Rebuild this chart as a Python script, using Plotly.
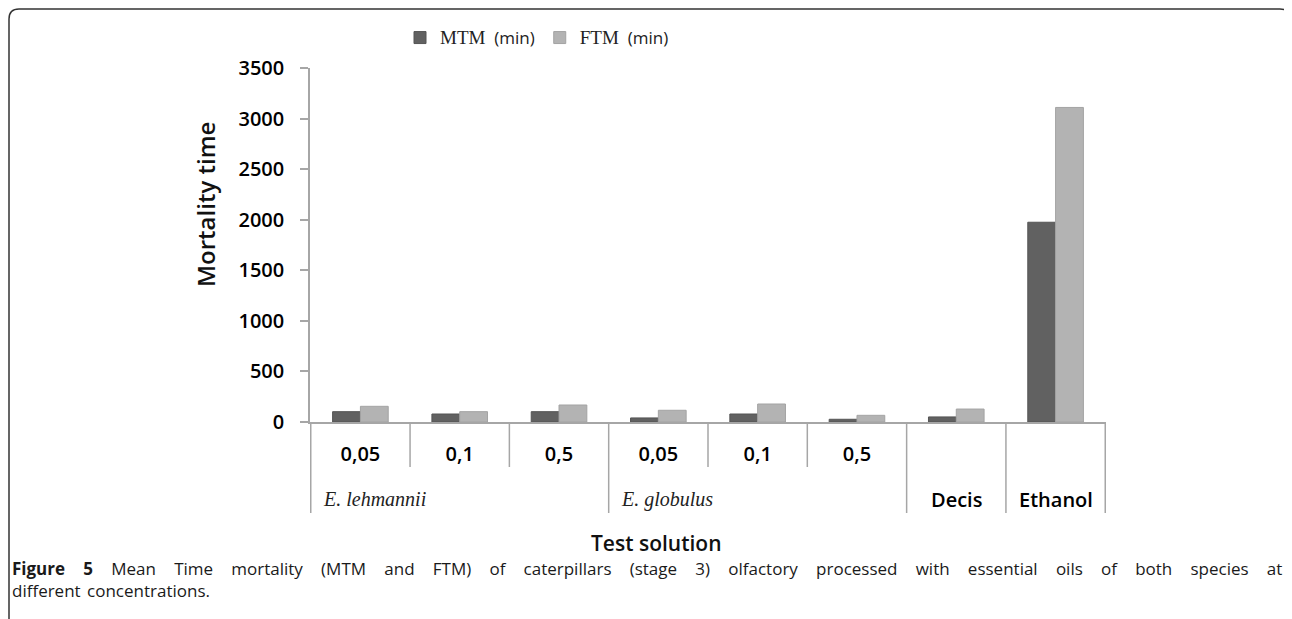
import plotly.graph_objects as go

# data
species = ["E. lehmannii", "E. lehmannii", "E. lehmannii",
           "E. globulus", "E. globulus", "E. globulus",
           "Decis", "Ethanol"]
concentration = ["0,05", "0,1", "0,5", "0,05", "0,1", "0,5", "", ""]
mtm = [102, 79, 102, 40, 79, 27, 50, 1975]
ftm = [155, 102, 168, 116, 178, 66, 128, 3110]
oils = {"E. lehmannii", "E. globulus"}

categories = [f"{s} {c}".strip() for s, c in zip(species, concentration)]

# page body has an 8px margin, so the figure is laid out in screen pixels minus that offset
OFF = 8
W, H = 1292 - OFF, 619 - OFF
L, T = 310 - OFF, 68 - OFF
R, B = W - (1106 - OFF), H - (422 - OFF)
PW, PH = W - L - R, H - T - B


def px(x):  # screen pixel -> paper x
    return (x - OFF - L) / PW


def py(y):  # screen pixel -> paper y
    return (H - B - (y - OFF)) / PH


sans = "Open Sans"
serif = "Liberation Serif"
dark, light = '#616161', '#b3b3b3'
axis_grey = '#a6a6a6'


def legend_name(label):
    return (f"<span style='font-family:{serif};font-size:19px'>{label}</span>"
            f"\u00a0\u00a0<span style='font-size:17px'>(min)</span>")


fig = go.Figure()
fig.add_trace(go.Bar(x=categories, y=mtm, name=legend_name("MTM"),
                     marker=dict(color=dark, line=dict(color='#555555', width=1))))
fig.add_trace(go.Bar(x=categories, y=ftm, name=legend_name("FTM"),
                     marker=dict(color=light, line=dict(color='#a3a3a3', width=1))))

fig.update_layout(width=W, height=H, margin=dict(l=L, r=R, t=T, b=B),
                  paper_bgcolor='white', plot_bgcolor='white',
                  barmode='group', bargap=0.44, bargroupgap=0,
                  font=dict(family=sans, color='black'),
                  showlegend=True,
                  legend=dict(orientation='h', x=px(400), y=py(38), xanchor='left', yanchor='middle',
                              font=dict(size=17, color='#222'), itemwidth=30,
                              bgcolor='rgba(0,0,0,0)'))

fig.update_xaxes(type='category', tickvals=categories, ticktext=concentration,
                 showline=True, linecolor=axis_grey, linewidth=1.5, ticks='',
                 ticklabelstandoff=13, tickfont=dict(size=20, weight=600),
                 showgrid=False, zeroline=False)
fig.update_yaxes(range=[0, 3500], dtick=500, showline=True, linecolor=axis_grey, linewidth=1.5,
                 ticks='outside', ticklen=8, tickcolor=axis_grey, tickwidth=1.5,
                 ticklabelstandoff=12, tickfont=dict(size=20, weight=600),
                 showgrid=False, zeroline=False)

# category dividers below the axis: short inside a group, long between groups
line_style = dict(color=axis_grey, width=1.5)
short_len, long_len = 45 / PH, 91 / PH
n = len(categories)
for i in range(n + 1):
    boundary = i == 0 or i == n or species[i] != species[i - 1]
    fig.add_shape(type='line', xref='x', yref='paper', x0=i - 0.5, x1=i - 0.5,
                  y0=0, y1=-(long_len if boundary else short_len), line=line_style)

# group labels
start = 0
for i in range(1, n + 1):
    if i == n or species[i] != species[start]:
        name = species[start]
        if name in oils:
            fig.add_annotation(x=start - 0.5, xref='x', y=py(499), yref='paper', xshift=10,
                               text=f"<i>{name}</i>", showarrow=False, xanchor='left', yanchor='middle',
                               font=dict(family=serif, size=20, color='#222'))
        else:
            fig.add_annotation(x=(start + i - 1) / 2, xref='x', y=py(499), yref='paper',
                               text=name, showarrow=False, xanchor='center', yanchor='middle',
                               font=dict(size=20, weight=600, color='black'))
        start = i

# axis titles
fig.add_annotation(x=px(205), y=py(205), xref='paper', yref='paper', text='Mortality time',
                   textangle=-90, showarrow=False, xanchor='center', yanchor='middle',
                   font=dict(size=24, weight=600, color='#111'))
fig.add_annotation(x=px(656), y=py(543), xref='paper', yref='paper', text='Test solution',
                   showarrow=False, xanchor='center', yanchor='middle',
                   font=dict(size=21, weight=600, color='#111'))

# caption (first line stretched to full width like the justified original)
fig.add_annotation(x=px(10), y=py(579), xref='paper', yref='paper', xanchor='left', yanchor='middle',
                   align='left', showarrow=False, font=dict(size=17, color='#1a1a1a'),
                   text="<span style='word-spacing:13.8px'><b>Figure 5</b> Mean Time mortality (MTM and FTM) "
                        "of caterpillars (stage 3) olfactory processed with essential oils of both species at</span><br>"
                        "<span style='word-spacing:2px'>different concentrations.</span>")

# figure frame
fig.add_shape(type='path', xref='paper', yref='paper', line=dict(color='#333333', width=1.5),
              path=f"M {px(1292)},{py(18)} Q {px(1290)},{py(9)} {px(1280)},{py(9)} "
                   f"L {px(19)},{py(9)} Q {px(9)},{py(9)} {px(9)},{py(19)} L {px(9)},{py(619)}")

fig.write_html("out.html")
